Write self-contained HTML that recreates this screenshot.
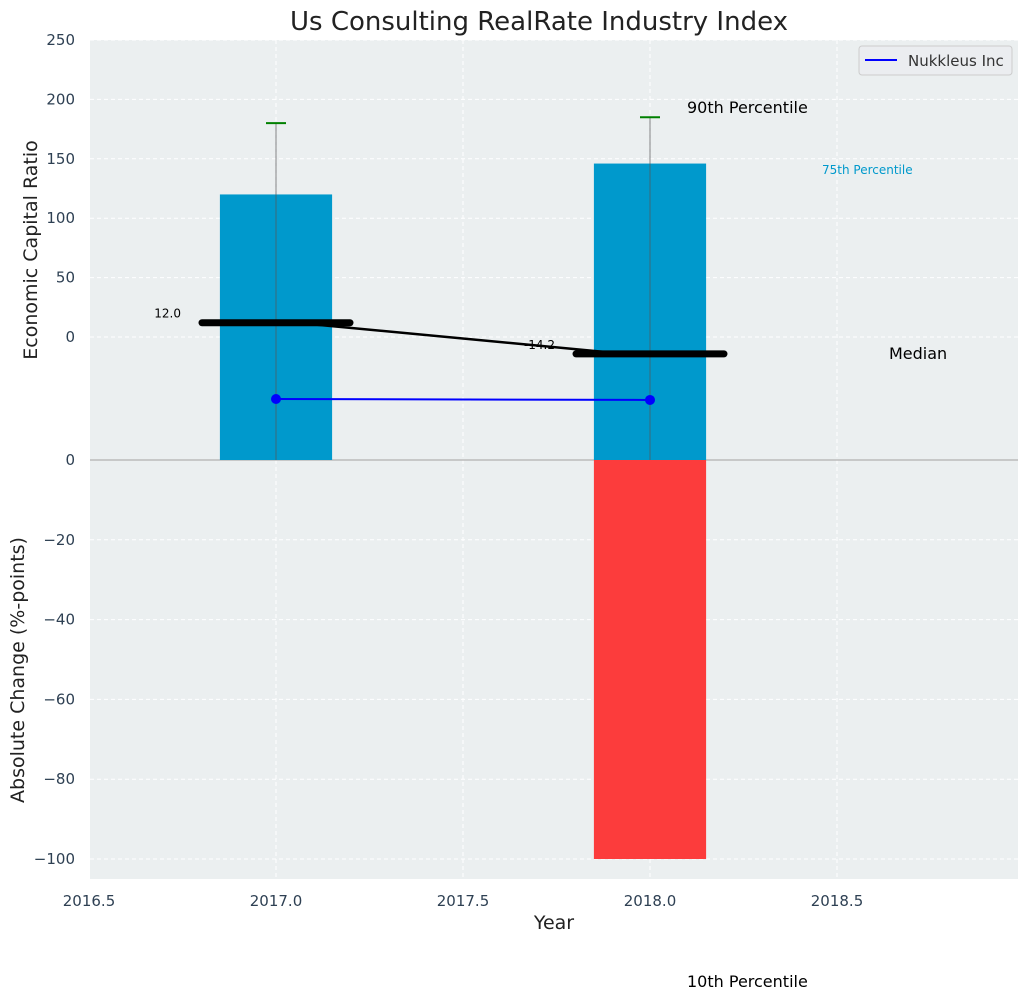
<!DOCTYPE html>
<html><head><meta charset="utf-8">
<style>
html,body{margin:0;padding:0;background:#fff;}
svg text{font-family:"DejaVu Sans","Liberation Sans",sans-serif;}
</style></head>
<body>
<svg id="chart" width="1029" height="1001" viewBox="0 0 1029 1001" xmlns="http://www.w3.org/2000/svg">
  <rect x="90" y="40" width="928" height="420" fill="#ebeff0"/>
  <rect x="90" y="460" width="928" height="419" fill="#ebeff0"/>
  <g id="grid"></g>
  <g id="marks"></g>
  <g id="ticks"></g>
  <text x="539" y="30" font-size="26" text-anchor="middle" fill="#222">Us Consulting RealRate Industry Index</text>
  <text transform="translate(37,250) rotate(-90)" font-size="19" text-anchor="middle" fill="#222">Economic Capital Ratio</text>
  <text transform="translate(24,670) rotate(-90)" font-size="19" text-anchor="middle" fill="#222">Absolute Change (%-points)</text>
  <text x="554" y="929" font-size="19" text-anchor="middle" fill="#222">Year</text>
  <text x="687" y="113" font-size="16" fill="#000">90th Percentile</text>
  <text x="822" y="174" font-size="12" fill="#0099cc">75th Percentile</text>
  <text x="889" y="359" font-size="16" fill="#000">Median</text>
  <text x="687" y="987" font-size="16" fill="#000">10th Percentile</text>
  <g>
    <rect x="859" y="46" width="153" height="29" rx="3" fill="#ebedf0" stroke="#ccc"/>
    <line x1="865" y1="60" x2="897" y2="60" stroke="#0000ff" stroke-width="2"/>
    <text x="908" y="66" font-size="15" fill="#333">Nukkleus Inc</text>
  </g>
</svg>
<script>
const years = [2017, 2018];
const p75 = [120, 146];
const p90 = [180, 185];
const medians = [12.0, -14.2];
const companyValues = [-52.2, -53.0];
const changes = [null, -100];
const xTicks = [2016.5, 2017.0, 2017.5, 2018.0, 2018.5];
const topTicks = [0, 50, 100, 150, 200, 250];
const bottomTicks = [0, -20, -40, -60, -80, -100];

const NS = "http://www.w3.org/2000/svg";
const X = v => 89 + (v - 2016.5) * 374;
const YT = v => 337 - v * 1.188;
const YB = v => 460 - v * 3.99;
const TOP_BOTTOM = 460;
function mk(parent, tag, attrs) {
  const e = document.createElementNS(NS, tag);
  for (const k in attrs) e.setAttribute(k, attrs[k]);
  document.getElementById(parent).appendChild(e);
  return e;
}
xTicks.forEach(t => {
  if (t === 2016.5) return;
  let l = mk('grid', 'line', {x1: X(t), x2: X(t), y1: 40, y2: 879, stroke: '#fff', 'stroke-dasharray': '4,3', 'stroke-width': 1});
  
  
});
topTicks.forEach(t => {
  let l = mk('grid', 'line', {x1: 90, x2: 1018, y1: YT(t), y2: YT(t), stroke: '#fff', 'stroke-dasharray': '4,3'});
  
  
  let tx = mk('ticks', 'text', {x: 75, y: YT(t) + 5, 'font-size': 15, 'text-anchor': 'end', fill: '#2e4053'});
  tx.textContent = t;
  
  
});
bottomTicks.forEach(t => {
  let l = mk('grid', 'line', {x1: 90, x2: 1018, y1: YB(t), y2: YB(t), stroke: '#fff', 'stroke-dasharray': '4,3'});
  
  
  let tx = mk('ticks', 'text', {x: 75, y: YB(t) + 5, 'font-size': 15, 'text-anchor': 'end', fill: '#2e4053'});
  tx.textContent = t === 0 ? '0' : '\u2212' + Math.abs(t);
  
  
});
xTicks.forEach(t => {
  let tx = mk('ticks', 'text', {x: X(t), y: 906, 'font-size': 15, 'text-anchor': 'middle', fill: '#2e4053'});
  tx.textContent = t.toFixed(1);
  
  
});
let sep = mk('marks', 'line', {x1: 90, x2: 1018, y1: 460, y2: 460, stroke: '#bbb', 'stroke-width': 1.5});


const bw = 0.3 * 374;
years.forEach((yr, i) => {
  let b = mk('marks', 'rect', {x: X(yr) - bw / 2, y: YT(p75[i]), width: bw, height: TOP_BOTTOM - YT(p75[i]), fill: '#0099cc'});
  
  
  if (changes[i] !== null) {
    let r = mk('marks', 'rect', {x: X(yr) - bw / 2, y: YB(0), width: bw, height: YB(changes[i]) - YB(0), fill: '#fc3c3c'});
    
    
  }
});
years.forEach((yr, i) => {
  let w = mk('marks', 'line', {x1: X(yr), x2: X(yr), y1: YT(p90[i]), y2: TOP_BOTTOM, stroke: '#555', 'stroke-width': 1, opacity: 0.7});
  
  
  let c = mk('marks', 'line', {x1: X(yr) - 10, x2: X(yr) + 10, y1: YT(p90[i]), y2: YT(p90[i]), stroke: 'green', 'stroke-width': 2});
  
  
});
let ml = mk('marks', 'line', {x1: X(years[0]) + 20, y1: YT(medians[0]), x2: X(years[1]) - 25, y2: YT(medians[1]), stroke: '#000', 'stroke-width': 2.5});


years.forEach((yr, i) => {
  let m = mk('marks', 'line', {x1: X(yr) - 74, x2: X(yr) + 74, y1: YT(medians[i]), y2: YT(medians[i]), stroke: '#000', 'stroke-width': 7, 'stroke-linecap': 'round'});
  
  
  let t = mk('marks', 'text', {x: X(yr) - 95, y: YT(medians[i]) - 5, 'font-size': 12, 'text-anchor': 'end', fill: '#000'});
  t.textContent = medians[i].toFixed(1);
  
  
});
let pts = years.map((yr, i) => X(yr) + ',' + YT(companyValues[i])).join(' ');
let pl = mk('marks', 'polyline', {points: pts, fill: 'none', stroke: '#0000ff', 'stroke-width': 2});


years.forEach((yr, i) => {
  let c = mk('marks', 'circle', {cx: X(yr), cy: YT(companyValues[i]), r: 5, fill: '#0000ff'});
  
  
});
</script>
</body></html>
